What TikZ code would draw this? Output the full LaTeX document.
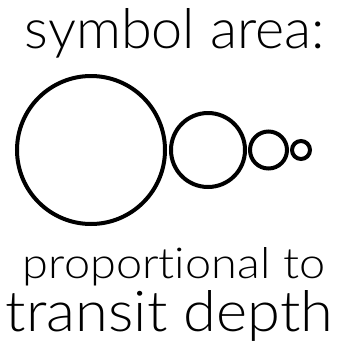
\documentclass[tikz,border=0pt]{standalone}
\usepackage{fontspec}
\setmainfont{Lato Light}[Ligatures=CommonOff]
\begin{document}
\begin{tikzpicture}[x=1pt,y=-1pt,
  ring/.style={draw=black,line width=4pt,circle,inner sep=0pt},
  lbl/.style={anchor=base,inner sep=0pt}]
\useasboundingbox (0,0) rectangle (343,349);
\node[lbl] (t1) at (175,48.5) {\resizebox{300pt}{40pt}{symbol area:}};
\node[ring,minimum size=148pt] (c1) at (91,150) {};
\node[ring,minimum size=74pt] (c2) at (208,150) {};
\node[ring,minimum size=37pt] (c3) at (268.5,150) {};
\node[ring,minimum size=18pt] (c4) at (301,150) {};
\node[lbl] (t2) at (174,278) {\resizebox{302pt}{31pt}{propor\kern0ptt\kern0pt ional to}};
\node[lbl] (t3) at (169.5,331) {\resizebox{327pt}{41pt}{transit\kern0pt\ depth}};
\end{tikzpicture}
\end{document}
